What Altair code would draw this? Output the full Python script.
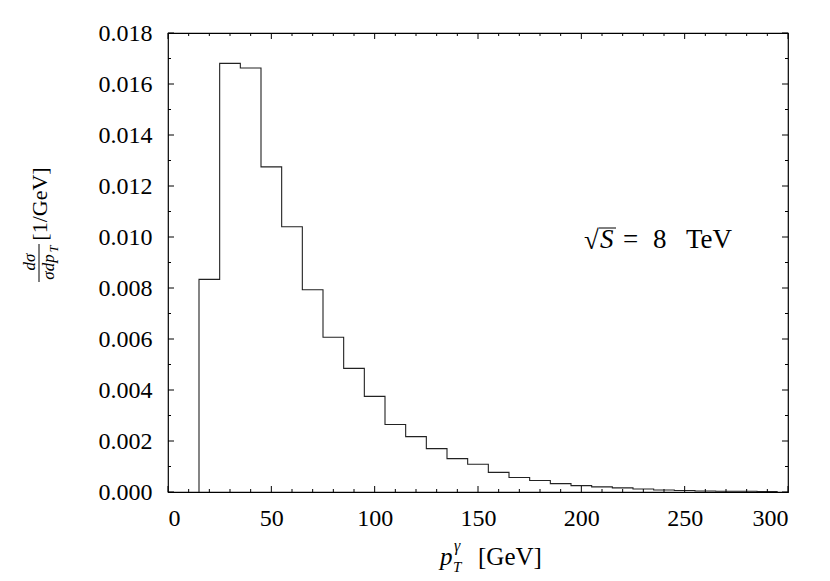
import altair as alt
import pandas as pd

FONT = "Liberation Serif"

# ---- data ----
bin_low = list(range(15, 295, 10))          # lower bin edges, 10 GeV bins 15..295
bin_width = 10
dsigma = [0.00834, 0.01681, 0.01663, 0.01275, 0.01040, 0.00793, 0.00607,
          0.00485, 0.00375, 0.00265, 0.00217, 0.00170, 0.00131, 0.00109,
          0.00077, 0.00057, 0.00045, 0.00033, 0.00025, 0.00020, 0.00016,
          0.00012, 0.00008, 0.00006, 0.00004, 0.00003, 0.00003, 0.00002]

x_major = [0, 50, 100, 150, 200, 250, 300]
x_minor = [10, 20, 30, 40, 60, 70, 80, 90, 110, 120, 130, 140, 160, 170, 180,
           190, 210, 220, 230, 240, 260, 270, 280, 290]
y_major = [0.000, 0.002, 0.004, 0.006, 0.008, 0.010, 0.012, 0.014, 0.016, 0.018]
y_minor = [0.001, 0.003, 0.005, 0.007, 0.009, 0.011, 0.013, 0.015, 0.017]

# ---- histogram outline as a step line ----
rows = [{"x": bin_low[0], "y": 0.0, "i": 0}]
for k, (lo, v) in enumerate(zip(bin_low, dsigma)):
    rows.append({"x": lo, "y": v, "i": k + 1})
rows.append({"x": bin_low[-1] + bin_width, "y": dsigma[-1], "i": len(dsigma) + 1})
step_df = pd.DataFrame(rows)

W, H = 620, 459
xs = alt.Scale(domain=[0, 300], nice=False, zero=False)
ys = alt.Scale(domain=[0, 0.018], nice=False)

x_axis = alt.Axis(values=x_major, title=None, ticks=False, domain=False,
                  grid=False, format="d", labelPadding=14,
                  labelFont=FONT, labelFontSize=24, labelColor="black",
                  labelFontWeight="normal")
y_axis = alt.Axis(values=y_major, title=None, ticks=False, domain=False,
                  grid=False, format=".3f", labelPadding=16,
                  labelFont=FONT, labelFontSize=24, labelColor="black",
                  labelFontWeight="normal")

line = alt.Chart(step_df).mark_line(
    interpolate="step-after", color="#222222", strokeWidth=1.1
).encode(
    x=alt.X("x:Q", scale=xs, axis=x_axis, title=None),
    y=alt.Y("y:Q", scale=ys, axis=y_axis, title=None),
    order="i:Q",
)


def xticks(vals, length):
    d = pd.DataFrame({"x": vals})
    base = alt.Chart(d).mark_rule(color="black", strokeWidth=1)
    bottom = base.encode(x=alt.X("x:Q", scale=xs, axis=x_axis, title=None),
                         y=alt.value(H), y2=alt.value(H - length))
    top = base.encode(x=alt.X("x:Q", scale=xs, axis=x_axis, title=None),
                      y=alt.value(0), y2=alt.value(length))
    return [bottom, top]


def yticks(vals, length):
    d = pd.DataFrame({"y": vals})
    base = alt.Chart(d).mark_rule(color="black", strokeWidth=1)
    left = base.encode(y=alt.Y("y:Q", scale=ys, axis=y_axis, title=None),
                       x=alt.value(0), x2=alt.value(length))
    right = base.encode(y=alt.Y("y:Q", scale=ys, axis=y_axis, title=None),
                        x=alt.value(W), x2=alt.value(W - length))
    return [left, right]


dummy = pd.DataFrame({"a": [0]})


def label(text, x, y, size=22, style="normal", angle=0, align="left",
          baseline="alphabetic"):
    return alt.Chart(dummy).mark_text(
        text=text, font=FONT, fontSize=size, fontStyle=style, angle=angle,
        align=align, baseline=baseline, color="black"
    ).encode(x=alt.value(x), y=alt.value(y))


def seg(x1, y1, x2, y2):
    return alt.Chart(dummy).mark_rule(color="black", strokeWidth=1).encode(
        x=alt.value(x1), y=alt.value(y1), x2=alt.value(x2), y2=alt.value(y2))


texts = [
    # x-axis title: p_T^gamma [GeV]
    label("p", 272, 532, size=25, style="italic"),
    label("γ", 286, 518, size=16, style="italic"),
    label("T", 285, 539, size=15, style="italic"),
    label("[GeV]", 310, 532, size=25),
    # y-axis title: dσ/(σ dp_T) [1/GeV]  (rotated)
    label("[1/GeV]", -128, 171, size=22, angle=270, align="center", baseline="middle"),
    label("dσ", -138, 229, size=17, style="italic", angle=270, align="center", baseline="middle"),
    seg(-129, 211, -129, 249),
    label("σdp", -119, 234, size=17, style="italic", angle=270, align="center", baseline="middle"),
    label("T", -114, 216, size=12, style="italic", angle=270, align="center", baseline="middle"),
    # annotation: sqrt(S) = 8 TeV
    label("√", 416, 216, size=27),
    seg(431, 195, 448, 195),
    label("S", 432, 215, size=27, style="italic"),
    label("=", 455, 215, size=27),
    label("8", 485, 215, size=27),
    label("TeV", 518, 215, size=27),
]

layers = [line] + xticks(x_major, 6) + xticks(x_minor, 3) + yticks(y_major, 6) + yticks(y_minor, 3) + texts

chart = alt.layer(*layers).properties(
    width=W, height=H,
    padding={"left": 160, "top": 25, "right": 22, "bottom": 88},
    autosize=alt.AutoSizeParams(type="none"),
).configure_view(
    stroke="black", strokeWidth=1.2
)

chart.save("out.html", embed_options={"renderer": "svg", "actions": False})
